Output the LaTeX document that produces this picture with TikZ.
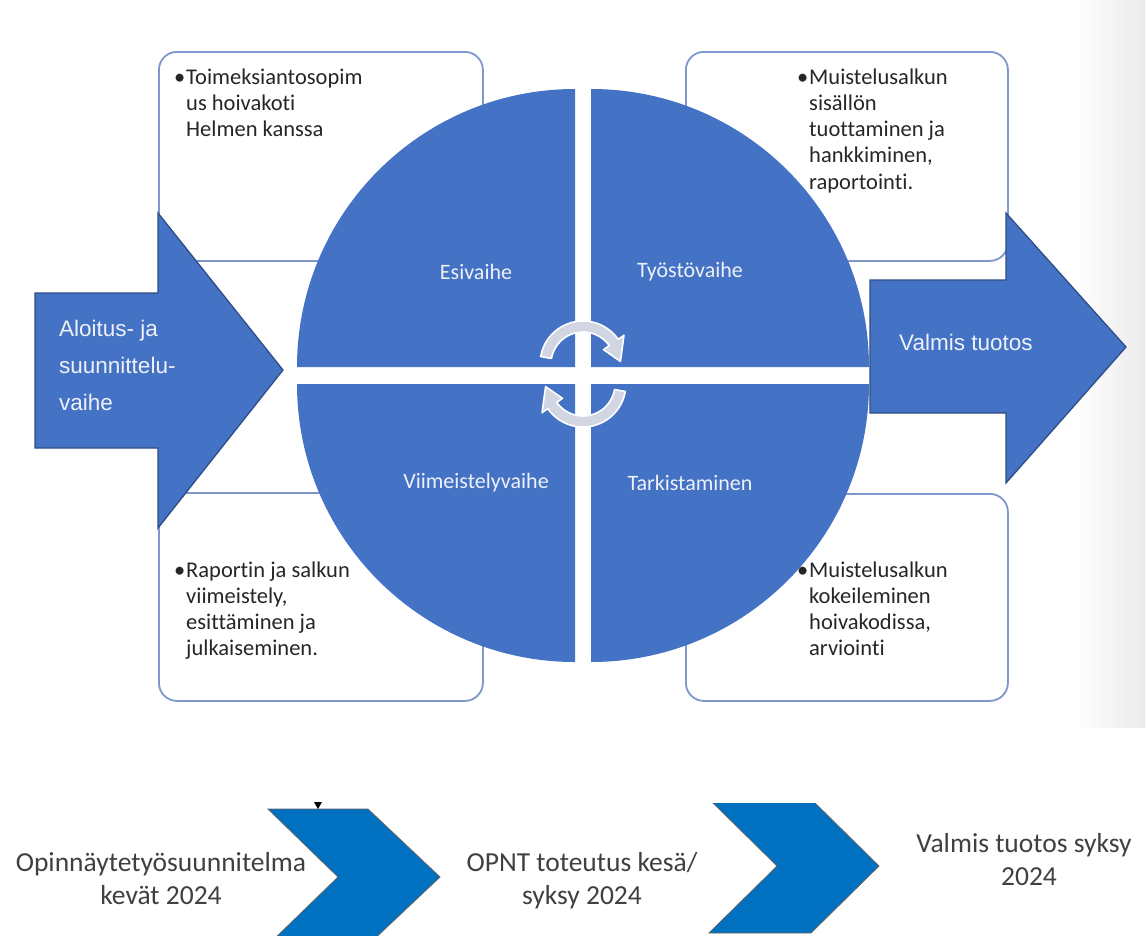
\documentclass[tikz,border=0pt]{standalone}
\usepackage{fontspec}
\setmainfont{Carlito}[Ligatures=NoCommon]
\newfontfamily\arialf{Liberation Sans}
\usetikzlibrary{calc}
\definecolor{qblue}{HTML}{4472C4}
\definecolor{dblue}{HTML}{2F4D86}
\definecolor{bborder}{HTML}{7F97CC}
\definecolor{cblue}{HTML}{0070C0}
\definecolor{txtgray}{HTML}{404040}
\definecolor{arrgray}{HTML}{D2D5E2}
\definecolor{qtext}{HTML}{EEF1F8}
\definecolor{boxtext}{HTML}{262626}
\newcommand\bulletlines[1]{\begin{tabular}[t]{@{}p{12pt}@{}l@{}}#1\end{tabular}}
\newcommand\leftlines[1]{\begin{tabular}[t]{@{}l@{}}#1\end{tabular}}
\newcommand\centerlines[1]{\begin{tabular}[t]{@{}c@{}}#1\end{tabular}}
\begin{document}
\begin{tikzpicture}[x=1pt,y=-1pt,
  infobox/.style={draw=bborder, line width=1.8pt, rounded corners=18pt, fill=white, inner sep=0pt, anchor=north west},
  quad/.style={fill=qblue},
  bigarrow/.style={fill=qblue, draw=dblue, line width=1.3pt, line join=miter},
  cyc/.style={fill=arrgray, draw=white, line width=1.6pt, line join=round},
  chev/.style={fill=cblue, draw=black!60, line width=0.8pt},
  qlabel/.style={text=qtext, font=\fontsize{22}{26}\selectfont, inner sep=0pt},
  boxtxt/.style={text=boxtext, font=\fontsize{22.5}{26.3}\selectfont, inner sep=0pt, anchor=base west},
  arrowtext/.style={text=qtext, font=\arialf\fontsize{22.5}{37}\selectfont, inner sep=0pt, anchor=base west},
  bottomtxt/.style={text=txtgray, font=\fontsize{27.5}{33.5}\selectfont, inner sep=0pt, anchor=base}]
\useasboundingbox (0,0) rectangle (1145,935);
\clip (0,0) rectangle (1145,935);
\fill[white] (0,0) rectangle (1145,935);
\shade[left color=white, right color=black!8] (1075,0) rectangle (1145,727);

% information boxes
\node[infobox, minimum width=324pt, minimum height=209pt] (boxTL) at (158,51) {};
\node[infobox, minimum width=322pt, minimum height=209pt] (boxTR) at (685,51) {};
\node[infobox, minimum width=324pt, minimum height=208pt] (boxBL) at (158,492) {};
\node[infobox, minimum width=322pt, minimum height=207pt] (boxBR) at (685,493) {};

% quadrants
\fill[quad] (575,367) -- (297,367) arc[start angle=180, end angle=270, radius=278] -- cycle;
\fill[quad] (591,367) -- (591,89) arc[start angle=270, end angle=360, radius=278] -- cycle;
\fill[quad] (575,384) -- (575,662) arc[start angle=90, end angle=180, radius=278] -- cycle;
\fill[quad] (591,384) -- (869,384) arc[start angle=0, end angle=90, radius=278] -- cycle;

% big arrows
\draw[bigarrow] (35,293) -- (158,293) -- (158,213) -- (283,370) -- (158,528) -- (158,448) -- (35,448) -- cycle;
\draw[bigarrow] (870,280) -- (1006,280) -- (1006,213) -- (1126,347) -- (1006,483) -- (1006,413) -- (870,413) -- cycle;

% cycle arrows
\coordinate (ct) at (583,364);
\coordinate (cb) at (583,384);
\filldraw[cyc] ($(ct)+(190:43)$) arc[start angle=190, end angle=325, radius=43]
  -- ($(ct)+(325:50)$) -- ($(ct)+(356:37.5)$) -- ($(ct)+(325:25)$) -- ($(ct)+(325:32)$)
  arc[start angle=325, end angle=190, radius=32] -- cycle;
\filldraw[cyc] ($(cb)+(10:43)$) arc[start angle=10, end angle=145, radius=43]
  -- ($(cb)+(145:50)$) -- ($(cb)+(176:37.5)$) -- ($(cb)+(145:25)$) -- ($(cb)+(145:32)$)
  arc[start angle=145, end angle=10, radius=32] -- cycle;

% quadrant labels
\node[qlabel] (lEsi) at (476,272) {Esivaihe};
\node[qlabel] (lTyo) at (690,272) {Työstövaihe};
\node[qlabel] (lVii) at (476,483) {Viimeistelyvaihe};
\node[qlabel] (lTar) at (690,483) {Tarkistaminen};

% arrow texts
\node[arrowtext] (tAloitus) at (59,336) {\leftlines{Aloitus- ja\\suunnittelu-\\vaihe}};
\node[arrowtext] (tValmis) at (899,350) {Valmis tuotos};

% box texts
\node[boxtxt] (tTL) at (174,84) {\bulletlines{•&Toimeksiantosopim\\&us hoivakoti\\&Helmen kanssa}};
\node[boxtxt] (tTR) at (797,84) {\bulletlines{•&Muistelusalkun\\&sisällön\\&tuottaminen ja\\&hankkiminen,\\&raportointi.}};
\node[boxtxt] (tBL) at (174,577) {\bulletlines{•&Raportin ja salkun\\&viimeistely,\\&esittäminen ja\\&julkaiseminen.}};
\node[boxtxt] (tBR) at (797,577) {\bulletlines{•&Muistelusalkun\\&kokeileminen\\&hoivakodissa,\\&arviointi}};

% bottom chevrons
\draw[chev] (268,809) -- (368,809) -- (440,877) -- (368,945) -- (268,945) -- (338,877) -- cycle;
\begin{scope}
\clip (0,803) rectangle (1145,940);
\draw[chev] (709,799) -- (811,799) -- (879,866) -- (811,933) -- (709,933) -- (777,866) -- cycle;
\end{scope}
\fill[black] (314,802) -- (322,802) -- (318,809) -- cycle;

% bottom texts
\node[bottomtxt] (bOpin) at (161,871) {\centerlines{Opinnäytetyösuunnitelma\\kevät 2024}};
\node[bottomtxt] (bOPNT) at (582,871) {\centerlines{OPNT toteutus kesä/\\syksy 2024}};
\node[bottomtxt] (bValmis) at (1024,852) {\centerlines{Valmis tuotos syksy\\\hspace*{10pt}2024}};
\end{tikzpicture}
\end{document}
